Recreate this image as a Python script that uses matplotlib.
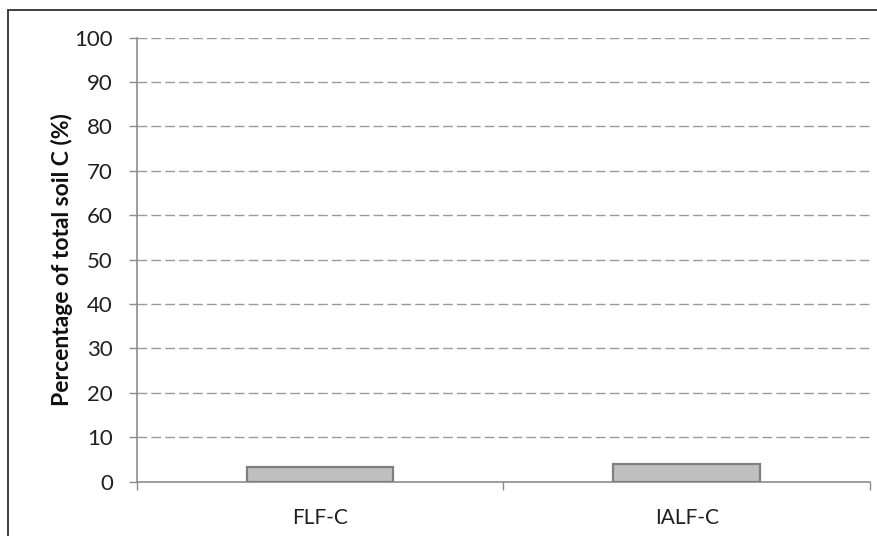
import matplotlib.pyplot as plt
from matplotlib.patches import Rectangle

categories = ['FLF-C', 'IALF-C']
values = [3.4, 3.9]
y_ticks = [0, 10, 20, 30, 40, 50, 60, 70, 80, 90, 100]

plt.rcParams['font.family'] = ['Lato', 'DejaVu Sans']

fig = plt.figure(figsize=(8.78, 5.36), dpi=100)
ax = fig.add_axes([0.1555, 0.1013, 0.991 - 0.1555, 0.9297 - 0.1013])

# outer chart frame (clipped on right/bottom like the original)
fig.patches.append(Rectangle((8 / 878, -0.05), 1.0, 1 - 10 / 536 + 0.05,
                             transform=fig.transFigure, fill=False,
                             edgecolor='#303030', linewidth=1.3))

x = list(range(len(categories)))
ax.bar(x, values, width=0.4, color='#bfbfbf', edgecolor='#7f7f7f',
       linewidth=1.6, zorder=3)

ax.set_xlim(-0.5, len(categories) - 0.5)
ax.set_ylim(0, 100)
ax.set_yticks(y_ticks)
ax.set_xticks(x)
ax.set_xticklabels(categories)
ax.set_xticks([i - 0.5 for i in range(len(categories) + 1)], minor=True)

ax.tick_params(axis='x', which='major', length=0, pad=19, labelsize=15,
               labelcolor='#202020')
ax.tick_params(axis='x', which='minor', length=6, width=1, color='#8c8c8c')
ax.tick_params(axis='y', length=6, width=1, color='#8c8c8c', pad=11,
               labelsize=16, labelcolor='#202020')

for s in ['top', 'right']:
    ax.spines[s].set_visible(False)
for s in ['left', 'bottom']:
    ax.spines[s].set_color('#8c8c8c')
    ax.spines[s].set_linewidth(1.2)

for t in y_ticks[1:]:
    ax.axhline(t, color='#9a9a9a', linewidth=1, dashes=(7, 3), zorder=1)

ax.set_ylabel('Percentage of total soil C (%)', fontsize=16.5,
              fontweight='bold', labelpad=1, color='#101010')

fig.savefig('out.png', dpi=100)
